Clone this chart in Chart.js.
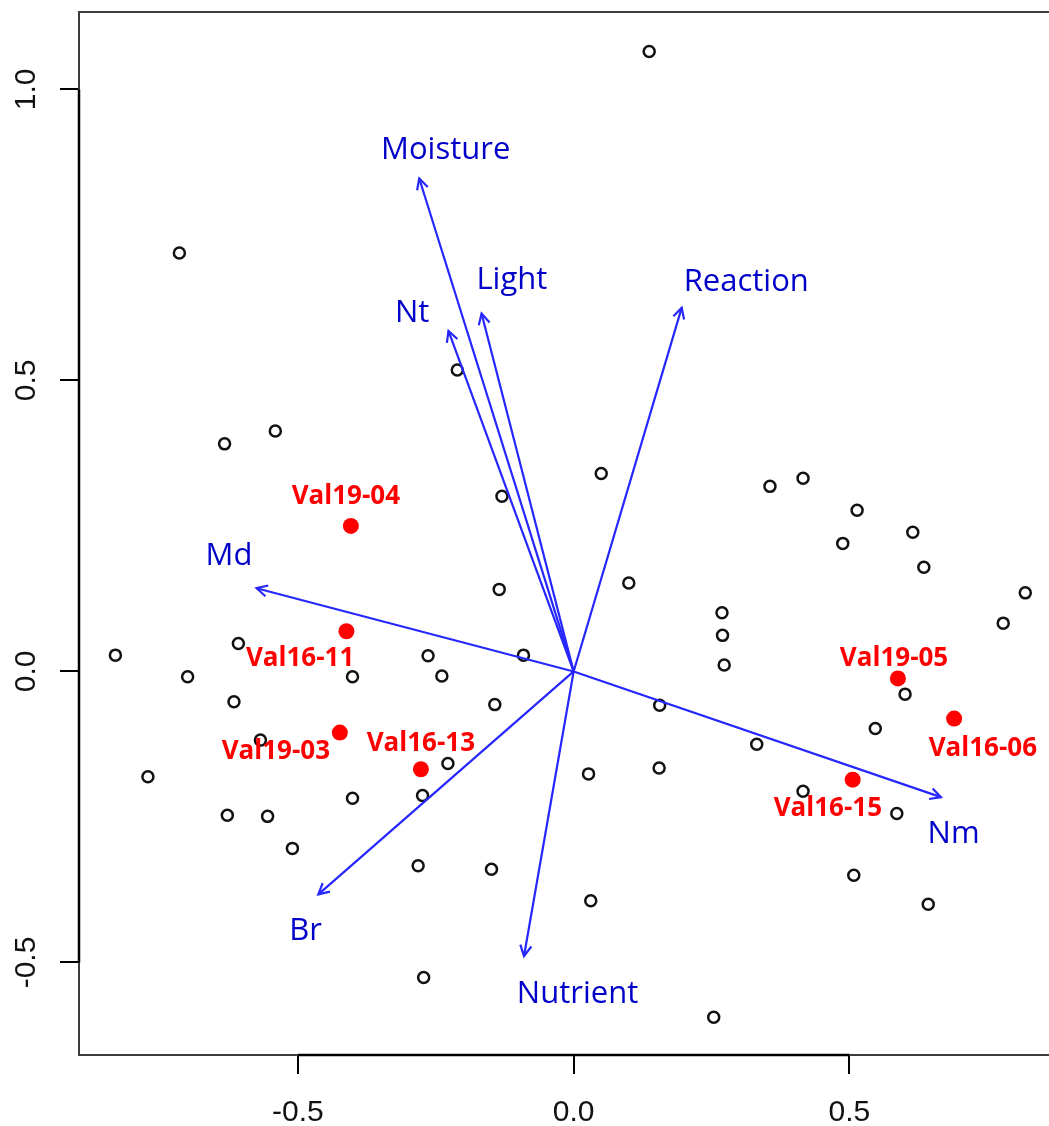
<!DOCTYPE html>
<html>
<head>
<meta charset="utf-8">
<script src="https://cdn.jsdelivr.net/npm/chart.js@4.4.1/dist/chart.umd.min.js"></script>
<style>
  html, body { margin: 0; padding: 0; background: #ffffff; overflow: hidden; }
  canvas { display: block; }
</style>
</head>
<body>
<canvas id="ord" width="1049" height="1126"></canvas>
<script>
// Site scores on the first two ordination axes
const siteX = [0.137, -0.715, -0.211, -0.633, -0.541, 0.050, -0.130, 0.356, 0.416, 0.514,
  0.488, 0.615, 0.635, 0.819, 0.779, -0.135, 0.100, 0.269, 0.270, 0.273,
  -0.831, -0.700, -0.608, -0.264, -0.401, -0.239, -0.091, -0.616, -0.143, 0.601,
  0.156, 0.547, -0.568, -0.772, -0.228, 0.332, 0.155, 0.027, -0.401, -0.274,
  -0.628, -0.555, -0.510, 0.416, 0.586, -0.282, -0.149, 0.508, 0.031, 0.643,
  -0.272, 0.254];
const siteY = [1.065, 0.719, 0.518, 0.391, 0.413, 0.340, 0.301, 0.318, 0.332, 0.277,
  0.220, 0.239, 0.179, 0.135, 0.083, 0.141, 0.152, 0.101, 0.062, 0.011,
  0.028, -0.009, 0.048, 0.027, -0.009, -0.008, 0.028, -0.052, -0.057, -0.039,
  -0.058, -0.098, -0.118, -0.181, -0.158, -0.125, -0.166, -0.176, -0.218, -0.213,
  -0.247, -0.249, -0.304, -0.206, -0.244, -0.334, -0.340, -0.350, -0.394, -0.400,
  -0.526, -0.594];

// Highlighted relevés and where their names sit
const releveNames = ['Val19-04', 'Val16-11', 'Val19-03', 'Val16-13', 'Val19-05', 'Val16-06', 'Val16-15'];
const releveX = [-0.404, -0.412, -0.424, -0.277, 0.588, 0.690, 0.506];
const releveY = [0.250, 0.069, -0.105, -0.168, -0.012, -0.081, -0.186];
const releveLabelX = [-0.413, -0.496, -0.540, -0.277, 0.581, 0.742, 0.461];
const releveLabelY = [0.304, 0.025, -0.134, -0.121, 0.025, -0.129, -0.233];

// Fitted environmental vectors (arrow tips) and their label anchors
const vectorNames = ['Moisture', 'Nt', 'Light', 'Reaction', 'Md', 'Nm', 'Br', 'Nutrient'];
const vectorX = [-0.280, -0.227, -0.167, 0.196, -0.575, 0.666, -0.463, -0.090];
const vectorY = [0.847, 0.585, 0.615, 0.625, 0.143, -0.216, -0.383, -0.489];
const vectorLabelX = [-0.232, -0.293, -0.112, 0.313, -0.625, 0.689, -0.486, 0.007];
const vectorLabelY = [0.899, 0.619, 0.676, 0.672, 0.202, -0.275, -0.443, -0.550];

// Axis ticks and limits
const xTicks = [-0.5, 0.0, 0.5];
const yTicks = [-0.5, 0.0, 0.5, 1.0];
const xLimits = [-0.897, 0.862];
const yLimits = [-0.659, 1.133];

const VECTOR_LINE = 'rgb(38,38,255)';
const VECTOR_TEXT = '#0000c8';
const RELEVE_RED = '#ff0000';

const arrowDatasets = vectorNames.map((name, i) => ({
  type: 'line',
  label: name,
  data: [{ x: 0, y: 0 }, { x: vectorX[i], y: vectorY[i] }],
  showLine: true,
  borderColor: VECTOR_LINE,
  borderWidth: 2.2,
  pointRadius: 0,
  fill: false,
  order: 1
}));

const decorations = {
  id: 'decorations',
  beforeDatasetsDraw(chart) {
    const { ctx, chartArea: a, scales: { x, y } } = chart;
    ctx.save();
    // plot frame (right side runs past the canvas edge)
    ctx.strokeStyle = '#3c3c3c';
    ctx.lineWidth = 2;
    ctx.beginPath();
    ctx.moveTo(1060, a.top);
    ctx.lineTo(a.left, a.top);
    ctx.lineTo(a.left, a.bottom);
    ctx.lineTo(1060, a.bottom);
    ctx.stroke();
    // axis lines spanning the tick range
    ctx.strokeStyle = '#000';
    ctx.lineWidth = 2.5;
    ctx.beginPath();
    ctx.moveTo(x.getPixelForValue(xTicks[0]), a.bottom);
    ctx.lineTo(x.getPixelForValue(xTicks[xTicks.length - 1]), a.bottom);
    ctx.moveTo(a.left, y.getPixelForValue(yTicks[0]));
    ctx.lineTo(a.left, y.getPixelForValue(yTicks[yTicks.length - 1]));
    ctx.stroke();
    ctx.restore();
  },
  afterDatasetsDraw(chart) {
    const { ctx, scales: { x, y } } = chart;
    ctx.save();
    // arrow heads at the vector tips
    chart.data.datasets.forEach((ds, di) => {
      if (ds.type !== 'line') return;
      const pts = chart.getDatasetMeta(di).data;
      const p0 = pts[0], p1 = pts[1];
      const ang = Math.atan2(p1.y - p0.y, p1.x - p0.x);
      const len = 12, spread = Math.PI / 6.5;
      ctx.strokeStyle = VECTOR_LINE;
      ctx.lineWidth = 2.2;
      ctx.beginPath();
      ctx.moveTo(p1.x - len * Math.cos(ang - spread), p1.y - len * Math.sin(ang - spread));
      ctx.lineTo(p1.x, p1.y);
      ctx.lineTo(p1.x - len * Math.cos(ang + spread), p1.y - len * Math.sin(ang + spread));
      ctx.stroke();
    });
    // vector names
    ctx.fillStyle = VECTOR_TEXT;
    ctx.font = '31px "Open Sans"';
    ctx.textAlign = 'center';
    ctx.textBaseline = 'alphabetic';
    vectorNames.forEach((name, i) => {
      const px = x.getPixelForValue(vectorLabelX[i]);
      const py = y.getPixelForValue(vectorLabelY[i]);
      ctx.fillText(name, px, py + 31 * 0.714 / 2);
    });
    // relevé names
    ctx.fillStyle = RELEVE_RED;
    ctx.font = 'bold 26px "Open Sans"';
    releveNames.forEach((name, i) => {
      const px = x.getPixelForValue(releveLabelX[i]);
      const py = y.getPixelForValue(releveLabelY[i]);
      ctx.fillText(name, px, py + 26 * 0.714 / 2);
    });
    ctx.restore();
  },
  afterDraw(chart) {
    // vertical-axis labels, rotated to read bottom to top
    const { ctx, scales: { y } } = chart;
    ctx.save();
    ctx.fillStyle = '#111';
    ctx.font = '30px "Liberation Sans", Arial, sans-serif';
    ctx.textAlign = 'center';
    ctx.textBaseline = 'alphabetic';
    y.ticks.forEach(t => {
      const py = y.getPixelForValue(t.value);
      ctx.save();
      ctx.translate(35, py);
      ctx.rotate(-Math.PI / 2);
      ctx.fillText(t.value.toFixed(1), 0, 0);
      ctx.restore();
    });
    ctx.restore();
  }
};

new Chart(document.getElementById('ord'), {
  type: 'scatter',
  data: {
    datasets: [
      {
        label: 'Highlighted relevés',
        data: releveX.map((v, i) => ({ x: v, y: releveY[i] })),
        pointRadius: 8,
        pointBackgroundColor: RELEVE_RED,
        pointBorderWidth: 0,
        pointBorderColor: RELEVE_RED,
        order: 0
      },
      ...arrowDatasets,
      {
        label: 'Sites',
        data: siteX.map((v, i) => ({ x: v, y: siteY[i] })),
        pointRadius: 5.5,
        pointBorderWidth: 2.5,
        pointBorderColor: '#111',
        pointBackgroundColor: 'rgba(0,0,0,0)',
        order: 2
      }
    ]
  },
  options: {
    responsive: false,
    devicePixelRatio: 1,
    animation: false,
    events: [],
    layout: { autoPadding: false, padding: { top: 12, right: 0, bottom: 0, left: 0 } },
    plugins: { legend: { display: false }, tooltip: { enabled: false } },
    scales: {
      x: {
        type: 'linear',
        min: xLimits[0],
        max: xLimits[1],
        afterBuildTicks: s => { s.ticks = xTicks.map(v => ({ value: v })); },
        afterFit: s => { s.height = 71; s.paddingLeft = 0; s.paddingRight = 0; },
        border: { display: false },
        grid: { drawOnChartArea: false, drawTicks: true, tickLength: 19, color: '#000', lineWidth: 2 },
        ticks: {
          autoSkip: false,
          maxRotation: 0,
          padding: 21,
          color: '#111',
          font: { family: '"Liberation Sans", Arial, sans-serif', size: 30 },
          callback: v => Number(v).toFixed(1)
        }
      },
      y: {
        type: 'linear',
        min: yLimits[0],
        max: yLimits[1],
        afterBuildTicks: s => { s.ticks = yTicks.map(v => ({ value: v })); },
        afterFit: s => { s.width = 79; s.paddingTop = 0; s.paddingBottom = 0; },
        border: { display: false },
        grid: { drawOnChartArea: false, drawTicks: true, tickLength: 19, color: '#000', lineWidth: 2 },
        ticks: { display: false }
      }
    }
  },
  plugins: [decorations]
});
</script>
</body>
</html>
